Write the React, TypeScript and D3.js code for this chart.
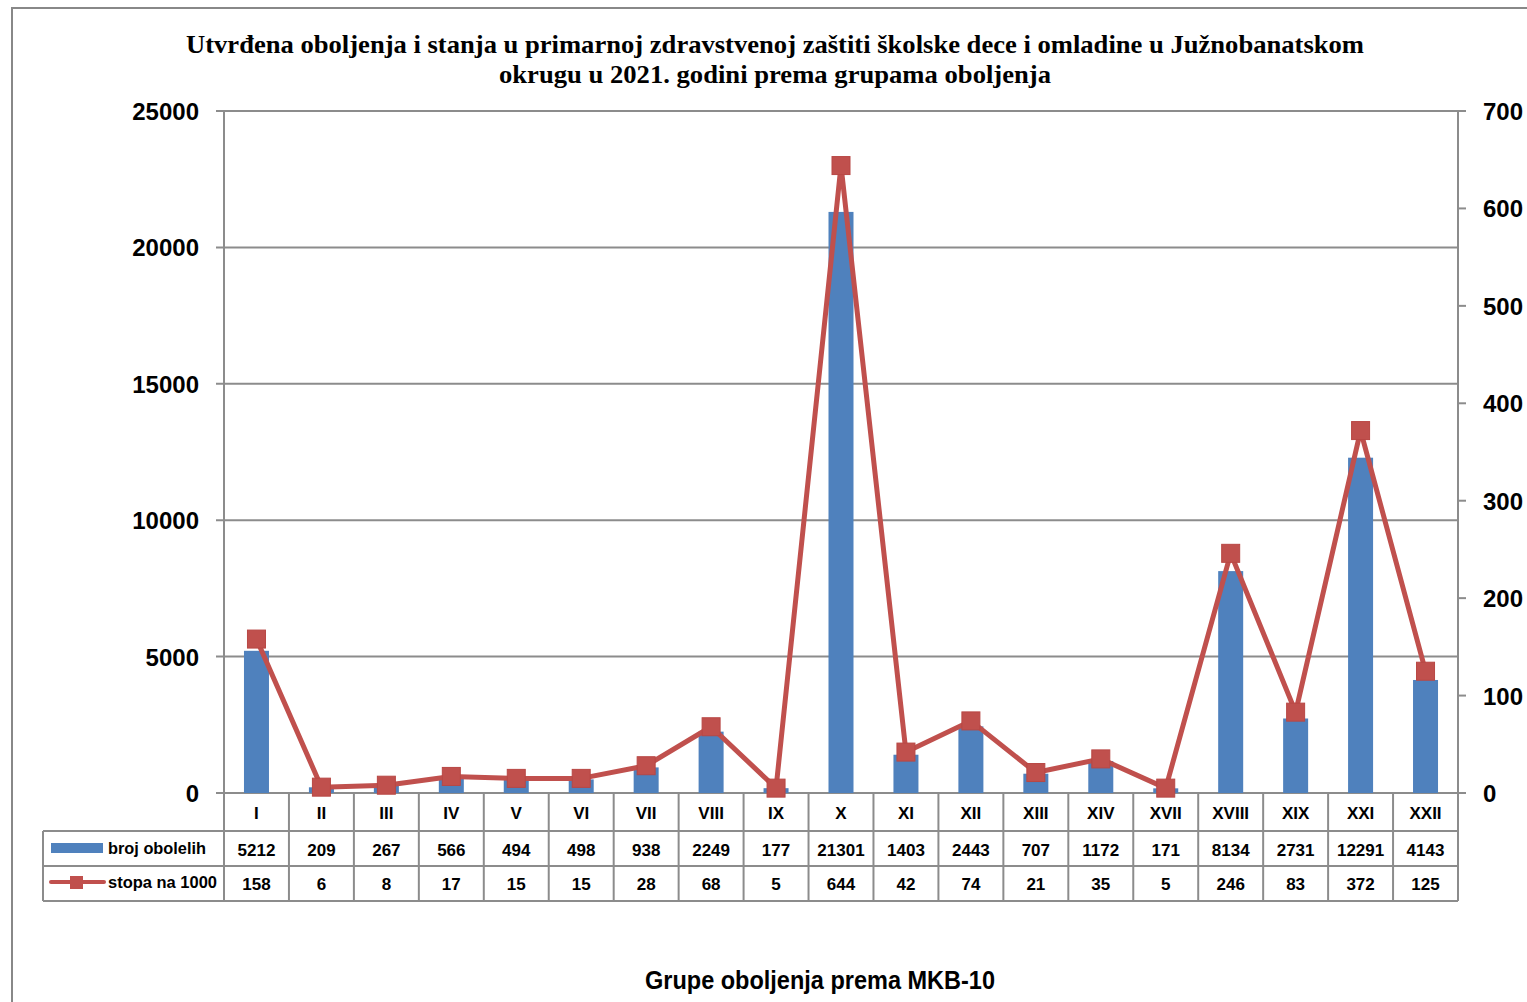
import React from "react";
import * as d3 from "d3";

const categories = ["I","II","III","IV","V","VI","VII","VIII","IX","X","XI","XII","XIII","XIV","XVII","XVIII","XIX","XXI","XXII"];
const brojObolelih = [5212,209,267,566,494,498,938,2249,177,21301,1403,2443,707,1172,171,8134,2731,12291,4143];
const stopaNa1000 = [158,6,8,17,15,15,28,68,5,644,42,74,21,35,5,246,83,372,125];
const leftTicks = [0,5000,10000,15000,20000,25000];
const rightTicks = [0,100,200,300,400,500,600,700];

const BLUE = "#4F81BD";
const RED = "#C0504D";
const GRID = "#8c8c8c";
const NARROW = "'Liberation Sans Narrow', 'Arial Narrow', 'Liberation Sans', Arial, sans-serif";
const SANS = "'Liberation Sans', Arial, sans-serif";
const SERIF = "'Liberation Serif', 'Times New Roman', serif";

export default function App() {
  const W = 1527, H = 1002;
  const x0 = 224, x1 = 1458, yTop = 111, yBot = 793;
  const x = d3.scaleBand<string>().domain(categories).range([x0, x1]).padding(0);
  const yL = d3.scaleLinear().domain([0, 25000]).range([yBot, yTop]);
  const yR = d3.scaleLinear().domain([0, 700]).range([yBot, yTop]);
  const bw = 25;
  const cx = (c: string) => (x(c) as number) + x.bandwidth() / 2;
  const line = d3.line<number>().x((_, i) => cx(categories[i])).y(d => yR(d));
  const row1 = 831, row2 = 866, row3 = 901, legL = 43;

  return (
    <svg width={W} height={H} style={{ position: "absolute", left: 0, top: 0, background: "#fff" }}>
      <rect x={0} y={0} width={W} height={H} fill="#fff" />
      <rect x={12} y={8} width={W + 20} height={H + 20} fill="none" stroke="#888" strokeWidth={2} />
      <text x={775} y={53} textAnchor="middle" fontFamily={SERIF} fontWeight="bold" fontSize={25} textLength={1178} lengthAdjust="spacingAndGlyphs">
        Utvrđena oboljenja i stanja u primarnoj zdravstvenoj zaštiti školske dece i omladine u Južnobanatskom
      </text>
      <text x={775} y={83} textAnchor="middle" fontFamily={SERIF} fontWeight="bold" fontSize={25} textLength={552} lengthAdjust="spacingAndGlyphs">
        okrugu u 2021. godini prema grupama oboljenja
      </text>
      {leftTicks.map(t => (
        <g key={"l" + t}>
          <line x1={x0 - 8} x2={x1} y1={yL(t)} y2={yL(t)} stroke={GRID} strokeWidth={2} />
          <text x={199} y={yL(t) + 9} textAnchor="end" fontFamily={SANS} fontWeight="bold" fontSize={24}>{t}</text>
        </g>
      ))}
      {rightTicks.map(t => (
        <g key={"r" + t}>
          <line x1={x1} x2={x1 + 8} y1={yR(t)} y2={yR(t)} stroke={GRID} strokeWidth={2} />
          <text x={1483} y={yR(t) + 9} textAnchor="start" fontFamily={SANS} fontWeight="bold" fontSize={24}>{t}</text>
        </g>
      ))}
      <line x1={x0} x2={x0} y1={yTop} y2={yBot} stroke={GRID} strokeWidth={2} />
      <line x1={x1} x2={x1} y1={yTop} y2={yBot} stroke={GRID} strokeWidth={2} />
      {brojObolelih.map((v, i) => (
        <rect key={"b" + i} x={cx(categories[i]) - bw / 2} y={yL(v)} width={bw} height={yBot - yL(v)} fill={BLUE} />
      ))}
      <path d={line(stopaNa1000) || ""} fill="none" stroke={RED} strokeWidth={5} strokeLinejoin="round" />
      {stopaNa1000.map((v, i) => (
        <rect key={"m" + i} x={cx(categories[i]) - 9} y={yR(v) - 9} width={18} height={18} fill={RED} stroke="#b84744" strokeWidth={1} />
      ))}
      <g stroke={GRID} strokeWidth={2} fill="none">
        <line x1={legL} x2={x1} y1={row1} y2={row1} />
        <line x1={legL} x2={x1} y1={row2} y2={row2} />
        <line x1={legL} x2={x1} y1={row3} y2={row3} />
        <line x1={legL} x2={legL} y1={row1} y2={row3} />
        <line x1={x0} x2={x0} y1={yBot} y2={row3} />
        {categories.map(c => (
          <line key={"v" + c} x1={(x(c) as number) + x.bandwidth()} x2={(x(c) as number) + x.bandwidth()} y1={yBot} y2={row3} />
        ))}
      </g>
      {categories.map((c, i) => (
        <g key={"t" + c} fontFamily={NARROW} fontWeight="bold" fontSize={17} textAnchor="middle">
          <text x={cx(c)} y={819}>{c}</text>
          <text x={cx(c)} y={856}>{brojObolelih[i]}</text>
          <text x={cx(c)} y={890}>{stopaNa1000[i]}</text>
        </g>
      ))}
      <rect x={51} y={843} width={52} height={10} fill={BLUE} />
      <text x={108} y={854} fontFamily={NARROW} fontWeight="bold" fontSize={17} textLength={98} lengthAdjust="spacingAndGlyphs">broj obolelih</text>
      <line x1={51} x2={104} y1={882} y2={882} stroke={RED} strokeWidth={4} strokeLinecap="round" />
      <rect x={70} y={876} width={13} height={13} fill={RED} />
      <text x={108} y={888} fontFamily={NARROW} fontWeight="bold" fontSize={17} textLength={109} lengthAdjust="spacingAndGlyphs">stopa na 1000</text>
      <text x={820} y={989} textAnchor="middle" fontFamily={NARROW} fontWeight="bold" fontSize={25} textLength={350} lengthAdjust="spacingAndGlyphs">Grupe oboljenja prema MKB-10</text>
    </svg>
  );
}
